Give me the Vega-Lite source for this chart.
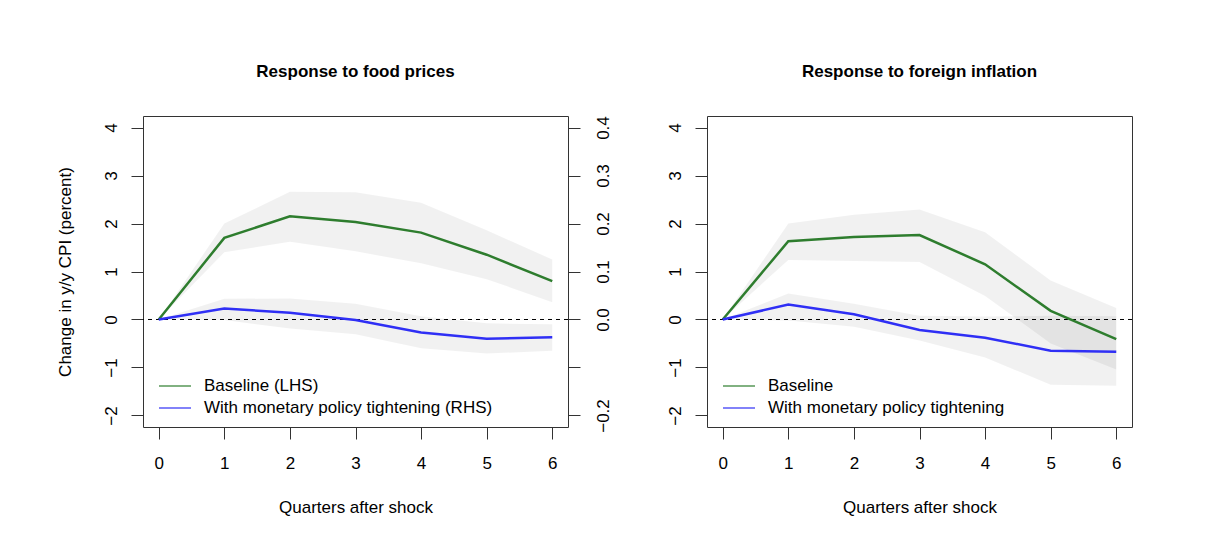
{
  "$schema": "https://vega.github.io/schema/vega-lite/v6.json",
  "autosize": {"type": "none"},
  "padding": {"left": 143, "top": 116, "right": 1063, "bottom": 425},
  "background": "white",
  "bounds": "flush",
  "spacing": 139,
  "datasets": {
    "food": [
      {"q": 0, "series": "Baseline (LHS)", "est": 0, "lo": 0, "hi": 0},
      {"q": 1, "series": "Baseline (LHS)", "est": 1.70, "lo": 1.40, "hi": 2.00},
      {"q": 2, "series": "Baseline (LHS)", "est": 2.15, "lo": 1.62, "hi": 2.66},
      {"q": 3, "series": "Baseline (LHS)", "est": 2.03, "lo": 1.42, "hi": 2.65},
      {"q": 4, "series": "Baseline (LHS)", "est": 1.81, "lo": 1.17, "hi": 2.43},
      {"q": 5, "series": "Baseline (LHS)", "est": 1.35, "lo": 0.84, "hi": 1.86},
      {"q": 6, "series": "Baseline (LHS)", "est": 0.80, "lo": 0.36, "hi": 1.25},
      {"q": 0, "series": "With monetary policy tightening (RHS)", "est": 0, "lo": 0, "hi": 0},
      {"q": 1, "series": "With monetary policy tightening (RHS)", "est": 0.023, "lo": -0.001, "hi": 0.043},
      {"q": 2, "series": "With monetary policy tightening (RHS)", "est": 0.014, "lo": -0.019, "hi": 0.044},
      {"q": 3, "series": "With monetary policy tightening (RHS)", "est": -0.001, "lo": -0.031, "hi": 0.033},
      {"q": 4, "series": "With monetary policy tightening (RHS)", "est": -0.027, "lo": -0.060, "hi": 0.007},
      {"q": 5, "series": "With monetary policy tightening (RHS)", "est": -0.040, "lo": -0.071, "hi": -0.008},
      {"q": 6, "series": "With monetary policy tightening (RHS)", "est": -0.037, "lo": -0.065, "hi": -0.010}
    ],
    "foreign": [
      {"q": 0, "series": "Baseline", "est": 0, "lo": 0, "hi": 0},
      {"q": 1, "series": "Baseline", "est": 1.63, "lo": 1.24, "hi": 2.00},
      {"q": 2, "series": "Baseline", "est": 1.72, "lo": 1.22, "hi": 2.18},
      {"q": 3, "series": "Baseline", "est": 1.76, "lo": 1.20, "hi": 2.29},
      {"q": 4, "series": "Baseline", "est": 1.15, "lo": 0.49, "hi": 1.82},
      {"q": 5, "series": "Baseline", "est": 0.18, "lo": -0.50, "hi": 0.81},
      {"q": 6, "series": "Baseline", "est": -0.41, "lo": -1.04, "hi": 0.24},
      {"q": 0, "series": "With monetary policy tightening", "est": 0, "lo": 0, "hi": 0},
      {"q": 1, "series": "With monetary policy tightening", "est": 0.31, "lo": -0.02, "hi": 0.54},
      {"q": 2, "series": "With monetary policy tightening", "est": 0.11, "lo": -0.15, "hi": 0.33},
      {"q": 3, "series": "With monetary policy tightening", "est": -0.22, "lo": -0.44, "hi": 0.08},
      {"q": 4, "series": "With monetary policy tightening", "est": -0.38, "lo": -0.79, "hi": 0.06},
      {"q": 5, "series": "With monetary policy tightening", "est": -0.65, "lo": -1.36, "hi": 0.08},
      {"q": 6, "series": "With monetary policy tightening", "est": -0.67, "lo": -1.38, "hi": 0.07}
    ]
  },
  "config": {
    "font": "Liberation Sans",
    "view": {"stroke": "#333333", "strokeWidth": 1},
    "axis": {
      "grid": false, "domain": false,
      "tickColor": "#333333", "tickSize": 12, "tickWidth": 1,
      "labelFont": "Liberation Sans", "labelFontSize": 17, "labelColor": "#000000",
      "labelOverlap": false, "labelFlush": false,
      "titleFont": "Liberation Sans", "titleFontSize": 17, "titleFontWeight": "normal", "titleColor": "#000000"
    },
    "legend": {
      "orient": "bottom-left", "offset": 11, "padding": 0, "title": null,
      "symbolType": "M-0.5,0H3.5", "symbolSize": 256, "symbolStrokeWidth": 1.2,
      "labelFont": "Liberation Sans", "labelFontSize": 17, "labelColor": "#000000",
      "labelOffset": 32, "rowPadding": 5, "labelLimit": 0
    },
    "title": {
      "font": "Liberation Sans", "fontSize": 17, "fontWeight": "bold", "color": "#000000",
      "anchor": "middle", "frame": "group", "offset": 35, "baseline": "alphabetic"
    }
  },
  "resolve": {"scale": {"color": "independent"}, "legend": {"color": "independent"}},
  "hconcat": [
    {
      "width": 425, "height": 311,
      "title": {"text": "Response to food prices"},
      "data": {"name": "food"},
      "layer": [
        {
          "layer": [
            {
              "transform": [{"filter": "datum.series === 'Baseline (LHS)'"}],
              "mark": {"type": "area", "color": "#000000", "opacity": 0.055},
              "encoding": {
                "x": {"field": "q", "type": "quantitative", "scale": {"domain": [-0.24, 6.24], "nice": false, "zero": false},
                      "axis": {"values": [0, 1, 2, 3, 4, 5, 6], "format": "d", "labelAngle": 0, "labelAlign": "center", "labelBaseline": "top", "labelPadding": 16, "title": "Quarters after shock", "titleBaseline": "top", "titlePadding": 28}},
                "y": {"field": "lo", "type": "quantitative", "scale": {"domain": [-2.24, 4.24], "nice": false, "zero": false},
                      "axis": {"orient": "left", "values": [-2, -1, 0, 1, 2, 3, 4], "format": "d", "labelAngle": 270, "labelAlign": "center", "labelBaseline": "bottom", "labelPadding": 11, "title": "Change in y/y CPI (percent)", "titleAngle": 270, "titleAlign": "center", "titleBaseline": "bottom", "titlePadding": 28}},
                "y2": {"field": "hi"}
              }
            },
            {
              "transform": [{"filter": "datum.q === 0 && datum.series === 'Baseline (LHS)'"}],
              "mark": {"type": "rule", "color": "#000000", "strokeWidth": 1, "strokeDash": [4, 4]},
              "encoding": {"y": {"datum": 0, "type": "quantitative"}}
            },
            {
              "transform": [{"filter": "datum.series === 'Baseline (LHS)'"}],
              "mark": {"type": "line", "strokeWidth": 2.5},
              "encoding": {
                "x": {"field": "q", "type": "quantitative"},
                "y": {"field": "est", "type": "quantitative"},
                "color": {"field": "series", "type": "nominal",
                          "scale": {"domain": ["Baseline (LHS)", "With monetary policy tightening (RHS)"], "range": ["#2e7d2e", "#2f2ff5"]}}
              }
            }
          ]
        },
        {
          "layer": [
            {
              "transform": [{"filter": "datum.series !== 'Baseline (LHS)'"}],
              "mark": {"type": "area", "color": "#000000", "opacity": 0.055},
              "encoding": {
                "x": {"field": "q", "type": "quantitative"},
                "y": {"field": "lo", "type": "quantitative", "scale": {"domain": [-0.224, 0.424], "nice": false, "zero": false},
                      "axis": {"orient": "right", "values": [-0.2, -0.1, 0, 0.1, 0.2, 0.3, 0.4], "labelExpr": "abs(datum.value + 0.1) < 0.0001 ? '' : format(datum.value, '.1f')", "labelAngle": 270, "labelAlign": "center", "labelBaseline": "top", "labelPadding": 15, "title": null}},
                "y2": {"field": "hi"}
              }
            },
            {
              "transform": [{"filter": "datum.series !== 'Baseline (LHS)'"}],
              "mark": {"type": "line", "strokeWidth": 2.5},
              "encoding": {
                "x": {"field": "q", "type": "quantitative"},
                "y": {"field": "est", "type": "quantitative"},
                "color": {"field": "series", "type": "nominal"}
              }
            }
          ]
        }
      ],
      "resolve": {"scale": {"y": "independent"}, "axis": {"y": "independent"}}
    },
    {
      "width": 425, "height": 311,
      "title": {"text": "Response to foreign inflation"},
      "data": {"name": "foreign"},
      "layer": [
        {
          "transform": [{"filter": "datum.series === 'Baseline'"}],
          "mark": {"type": "area", "color": "#000000", "opacity": 0.055},
          "encoding": {
            "x": {"field": "q", "type": "quantitative", "scale": {"domain": [-0.24, 6.24], "nice": false, "zero": false},
                  "axis": {"values": [0, 1, 2, 3, 4, 5, 6], "format": "d", "labelAngle": 0, "labelAlign": "center", "labelBaseline": "top", "labelPadding": 16, "title": "Quarters after shock", "titleBaseline": "top", "titlePadding": 28}},
            "y": {"field": "lo", "type": "quantitative", "scale": {"domain": [-2.24, 4.24], "nice": false, "zero": false},
                  "axis": {"orient": "left", "values": [-2, -1, 0, 1, 2, 3, 4], "format": "d", "labelAngle": 270, "labelAlign": "center", "labelBaseline": "bottom", "labelPadding": 11, "title": null}},
            "y2": {"field": "hi"}
          }
        },
        {
          "transform": [{"filter": "datum.series !== 'Baseline'"}],
          "mark": {"type": "area", "color": "#000000", "opacity": 0.055},
          "encoding": {
            "x": {"field": "q", "type": "quantitative"},
            "y": {"field": "lo", "type": "quantitative"},
            "y2": {"field": "hi"}
          }
        },
        {
          "transform": [{"filter": "datum.q === 0 && datum.series === 'Baseline'"}],
          "mark": {"type": "rule", "color": "#000000", "strokeWidth": 1, "strokeDash": [4, 4]},
          "encoding": {"y": {"datum": 0, "type": "quantitative"}}
        },
        {
          "mark": {"type": "line", "strokeWidth": 2.5},
          "encoding": {
            "x": {"field": "q", "type": "quantitative"},
            "y": {"field": "est", "type": "quantitative"},
            "color": {"field": "series", "type": "nominal",
                      "scale": {"domain": ["Baseline", "With monetary policy tightening"], "range": ["#2e7d2e", "#2f2ff5"]}}
          }
        }
      ]
    }
  ]
}
